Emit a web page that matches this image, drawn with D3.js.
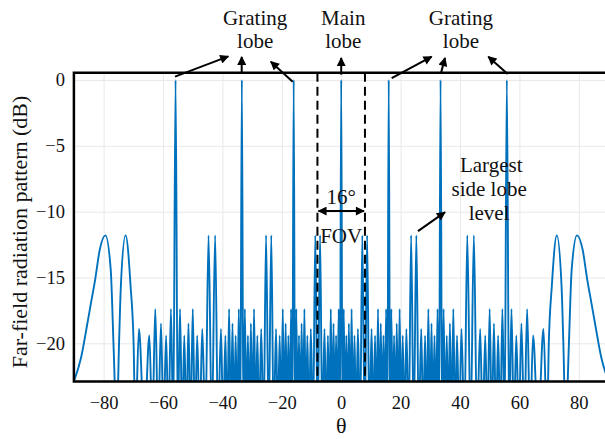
<!DOCTYPE html>
<html lang="en">
<head>
  <meta charset="UTF-8" />
  <title>Far-field radiation pattern</title>
  <script src="https://cdn.jsdelivr.net/npm/d3@7"></script>
  <style>
    body {
      margin: 0;
      background: #fff;
    }

    text {
      font-family: "Liberation Serif", "Times New Roman", serif;
      fill: #111;
    }

    .tick text {
      font-size: 18.5px;
    }

    .grid line {
      stroke: #e8e8e8;
      stroke-width: 1;
    }
  </style>
</head>

<body>
  <div id="chart"></div>
  <script>
    // pattern: angle (deg) and level (dB), N = null below the axis
    var N = -26.5;

    var thetaDeg = [
      -90, -87.5, -85.7, -84.3, -82.8, -81.3, -79.4, -77.6, -76.6, -75.6,
      -74.8, -74.2, -72.6, -70.9, -69.9, -69.3, -68.1, -66.3, -64.6, -63.6,
      -62.6, -61.64, -60.67, -59.82, -58.96, -58.15, -57.33, -56.55, -55.77, -55.02,
      -54.27, -53.55, -52.83, -52.13, -51.43, -50.71, -49.98, -49.24, -48.49, -47.64,
      -46.79, -45.73, -44.67, -43.56, -42.45, -41.47, -40.48, -39.74, -38.99, -38.37,
      -37.75, -37.18, -36.6, -36.07, -35.54, -35.01, -34.48, -33.97, -33.45, -32.94,
      -32.43, -31.92, -31.41, -30.91, -30.41, -29.88, -29.35, -28.8, -28.24, -27.6,
      -26.95, -26.13, -25.3, -24.42, -23.54, -22.74, -21.94, -21.33, -20.71, -20.19,
      -19.67, -19.19, -18.7, -18.25, -17.79, -17.34, -16.89, -16.45, -16, -15.55,
      -15.11, -14.66, -14.22, -13.78, -13.33, -12.86, -12.39, -11.89, -11.4, -10.81,
      -10.23, -9.48, -8.73, -7.92, -7.11, -6.37, -5.62, -5.05, -4.47, -3.99,
      -3.5, -3.04, -2.58, -2.15, -1.72, -1.29, -0.86, -0.43,
      0,
      0.43, 0.86, 1.29, 1.72, 2.15, 2.58, 3.04, 3.5,
      3.99, 4.47, 5.05, 5.62, 6.37, 7.11, 7.92, 8.73, 9.48, 10.23,
      10.81, 11.4, 11.89, 12.39, 12.86, 13.33, 13.78, 14.22, 14.66, 15.11,
      15.55, 16, 16.45, 16.89, 17.34, 17.79, 18.25, 18.7, 19.19, 19.67,
      20.19, 20.71, 21.33, 21.94, 22.74, 23.54, 24.42, 25.3, 26.13, 26.95,
      27.6, 28.24, 28.8, 29.35, 29.88, 30.41, 30.91, 31.41, 31.92, 32.43,
      32.94, 33.45, 33.97, 34.48, 35.01, 35.54, 36.07, 36.6, 37.18, 37.75,
      38.37, 38.99, 39.74, 40.48, 41.47, 42.45, 43.56, 44.67, 45.73, 46.79,
      47.64, 48.49, 49.24, 49.98, 50.71, 51.43, 52.13, 52.83, 53.55, 54.27,
      55.02, 55.77, 56.55, 57.33, 58.15, 58.96, 59.82, 60.67, 61.64, 62.6,
      63.6, 64.6, 66.3, 68.1, 69.3, 69.9, 70.9, 72.6, 74.2, 74.8,
      75.6, 76.6, 77.6, 79.4, 81.3, 82.8, 84.3, 85.7, 87.5, 90
    ];

    var patternDb = [
      -22.9, -21.0, -18.8, -17.0, -15.1, -12.9, -11.8, -14.4, -20.5, N,
      -20, -15.7, -11.8, -15.7, -20, N, -18.9, N, -19.4, N,
      -17.4, N, -18.5, N, -19.4, N, -17.4, N, 0, N,
      -17.4, N, -19.4, N, -18.5, N, -17.4, N, -19.4, N,
      -18.9, N, -11.8, N, -11.8, N, -18.9, N, -19.4, N,
      -17.4, N, -18.5, N, -19.4, N, -17.4, N, 0, N,
      -17.4, N, -19.4, N, -18.5, N, -17.4, N, -19.4, N,
      -18.9, N, -11.8, N, -11.8, N, -18.9, N, -19.4, N,
      -17.4, N, -18.5, N, -19.4, N, -17.4, N, 0, N,
      -17.4, N, -19.4, N, -18.5, N, -17.4, N, -19.4, N,
      -18.9, N, -11.8, N, -11.8, N, -18.9, N, -19.4, N,
      -17.4, N, -18.5, N, -19.4, N, -17.4, N,
      0,
      N, -17.4, N, -19.4, N, -18.5, N, -17.4,
      N, -19.4, N, -18.9, N, -11.8, N, -11.8, N, -18.9,
      N, -19.4, N, -17.4, N, -18.5, N, -19.4, N, -17.4,
      N, 0, N, -17.4, N, -19.4, N, -18.5, N, -17.4,
      N, -19.4, N, -18.9, N, -11.8, N, -11.8, N, -18.9,
      N, -19.4, N, -17.4, N, -18.5, N, -19.4, N, -17.4,
      N, 0, N, -17.4, N, -19.4, N, -18.5, N, -17.4,
      N, -19.4, N, -18.9, N, -11.8, N, -11.8, N, -18.9,
      N, -19.4, N, -17.4, N, -18.5, N, -19.4, N, -17.4,
      N, 0, N, -17.4, N, -19.4, N, -18.5, N, -17.4,
      N, -19.4, N, -18.9, N, -20, -15.7, -11.8, -15.7, -20,
      N, -20.5, -14.4, -11.8, -12.9, -15.1, -17.0, -18.8, -21.0, -22.9
    ];

    var xTicks = [-80, -60, -40, -20, 0, 20, 40, 60, 80];
    var yTicks = [0, -5, -10, -15, -20];
    var fovEdges = [-8, 8];

    // annotation arrows, in (deg, dB): from lobe towards the text
    var lobeArrows = [
      [[-55.96, 0.25], [-38.0, 1.79]],
      [[-33.5, 0.53], [-33.5, 1.75]],
      [[-16.33, -0.13], [-23.7, 1.39]],
      [[0, 0.4], [0, 1.67]],
      [[17.0, 0.13], [30.47, 1.77]],
      [[33.6, 0.53], [34.95, 1.67]],
      [[56.06, 0.46], [49.53, 1.77]],
      [[25.86, -11.48], [34.95, -10.04]]
    ];

    var labels = [
      { t: "Grating", at: [-28.96, 4.18] },
      { t: "lobe", at: [-28.96, 2.41] },
      { t: "Main", at: [0.7, 4.18] },
      { t: "lobe", at: [0.7, 2.41] },
      { t: "Grating", at: [40.3, 4.18] },
      { t: "lobe", at: [40.3, 2.41] },
      { t: "Largest", at: [50.5, -7.0] },
      { t: "side lobe", at: [49.8, -8.85] },
      { t: "level", at: [49.8, -10.6] },
      { t: "16°", at: [0, -9.45] },
      { t: "FOV", at: [0, -12.35] }
    ];

    if (thetaDeg.length != patternDb.length) {
      console.error("length mismatch", thetaDeg.length, patternDb.length);
    }
    var pattern = d3.zip(thetaDeg, patternDb);

    var w = 605,
      h = 439;

    var x = d3.scaleLinear().domain([-90, 90]).range([73.9, 608.5]);
    var y = d3.scaleLinear().domain([-22.9, 0.55]).range([381.5, 72.7]);

    var svg = d3.select("#chart").append("svg")
      .attr("width", w)
      .attr("height", h);

    var defs = svg.append("defs");
    defs.append("clipPath").attr("id", "plotclip")
      .append("rect")
      .attr("x", x(-90)).attr("y", y(0.55))
      .attr("width", x(90) - x(-90))
      .attr("height", y(-22.9) - y(0.55));

    defs.append("marker")
      .attr("id", "head")
      .attr("viewBox", "0 0 10 10")
      .attr("refX", 9).attr("refY", 5)
      .attr("markerUnits", "userSpaceOnUse")
      .attr("markerWidth", 10).attr("markerHeight", 9)
      .attr("orient", "auto-start-reverse")
      .append("path")
      .attr("d", "M0,0 L10,5 L0,10 Z")
      .attr("fill", "#000");

    // grid
    svg.append("g")
      .attr("class", "grid")
      .attr("transform", "translate(0," + y(-22.9) + ")")
      .call(d3.axisBottom(x).tickValues(xTicks).tickSize(-(y(-22.9) - y(0.55))).tickFormat(""))
      .call(function(g) { g.select(".domain").remove(); });

    svg.append("g")
      .attr("class", "grid")
      .attr("transform", "translate(" + x(-90) + ",0)")
      .call(d3.axisLeft(y).tickValues(yTicks).tickSize(-(x(90) - x(-90))).tickFormat(""))
      .call(function(g) { g.select(".domain").remove(); });

    // tick labels
    svg.append("g")
      .attr("transform", "translate(0," + y(-22.9) + ")")
      .call(d3.axisBottom(x).tickValues(xTicks).tickSize(0).tickPadding(14).tickFormat(d3.format("d")))
      .call(function(g) {
        g.select(".domain").remove();
        g.selectAll("text").attr("fill", "#111");
      });

    svg.append("g")
      .attr("transform", "translate(" + x(-90) + ",0)")
      .call(d3.axisLeft(y).tickValues(yTicks).tickSize(0).tickPadding(9).tickFormat(d3.format("d")))
      .call(function(g) {
        g.select(".domain").remove();
        g.selectAll("text").attr("fill", "#111");
      });

    // pattern curve
    var line = d3.line()
      .x(function(d) { return x(d[0]); })
      .y(function(d) { return y(d[1]); })
      .curve(d3.curveMonotoneX);

    svg.append("path")
      .datum(pattern)
      .attr("clip-path", "url(#plotclip)")
      .attr("d", line)
      .attr("fill", "none")
      .attr("stroke", "#0072BD")
      .attr("stroke-width", 1.9)
      .attr("stroke-linejoin", "round");

    // FOV dashed edges
    svg.selectAll(".fov")
      .data(fovEdges)
      .enter()
      .append("line")
      .attr("class", "fov")
      .attr("x1", function(d) { return x(d); })
      .attr("x2", function(d) { return x(d); })
      .attr("y1", y(0.55))
      .attr("y2", y(-22.9))
      .attr("stroke", "#000")
      .attr("stroke-width", 2)
      .attr("stroke-dasharray", "9,5");

    // frame (right side falls outside the window)
    svg.append("path")
      .attr("d", "M" + x(90) + "," + y(0.55) + "H" + x(-90) + "V" + y(-22.9) + "H" + x(90))
      .attr("fill", "none")
      .attr("stroke", "#000")
      .attr("stroke-width", 2.5);

    // FOV double arrow
    svg.append("line")
      .attr("x1", x(fovEdges[0]) + 1).attr("x2", x(fovEdges[1]) - 1)
      .attr("y1", y(-9.96)).attr("y2", y(-9.96))
      .attr("stroke", "#000")
      .attr("stroke-width", 2)
      .attr("marker-start", "url(#head)")
      .attr("marker-end", "url(#head)");

    // lobe arrows
    svg.selectAll(".arrow")
      .data(lobeArrows)
      .enter()
      .append("line")
      .attr("class", "arrow")
      .attr("x1", function(d) { return x(d[0][0]); })
      .attr("y1", function(d) { return y(d[0][1]); })
      .attr("x2", function(d) { return x(d[1][0]); })
      .attr("y2", function(d) { return y(d[1][1]); })
      .attr("stroke", "#000")
      .attr("stroke-width", 2)
      .attr("marker-end", "url(#head)");

    // annotation text
    svg.selectAll(".note")
      .data(labels)
      .enter()
      .append("text")
      .attr("class", "note")
      .attr("x", function(d) { return x(d.at[0]); })
      .attr("y", function(d) { return y(d.at[1]); })
      .attr("text-anchor", "middle")
      .style("font-size", "21px")
      .text(function(d) { return d.t; });

    // axis titles
    svg.append("text")
      .attr("x", x(0))
      .attr("y", 433)
      .attr("text-anchor", "middle")
      .style("font-size", "22px")
      .text("θ");

    svg.append("text")
      .attr("transform", "translate(27," + 232 + ") rotate(-90)")
      .attr("text-anchor", "middle")
      .style("font-size", "22px")
      .text("Far-field radiation pattern (dB)");
  </script>
</body>

</html>
